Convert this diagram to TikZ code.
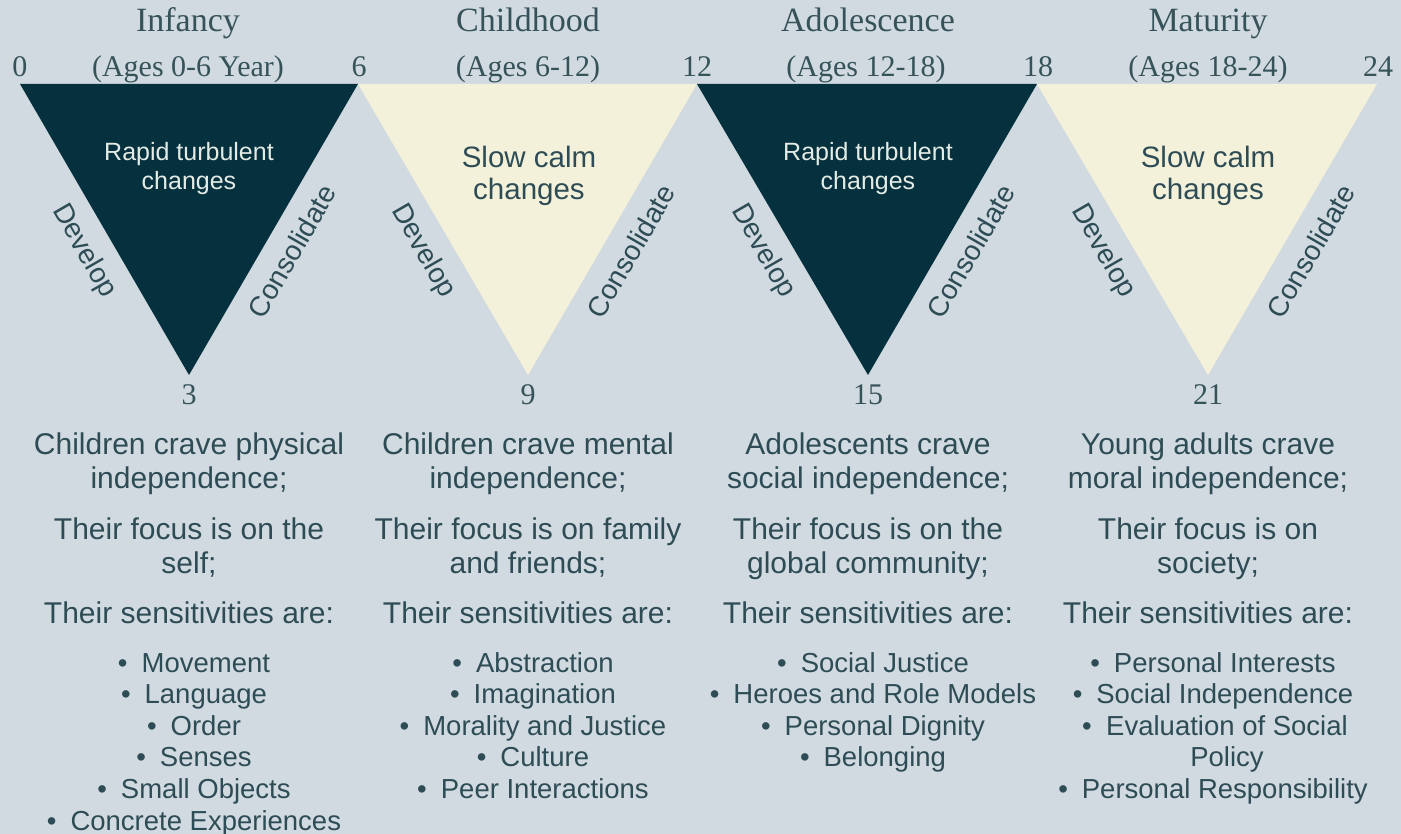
\documentclass[tikz,border=0pt]{standalone}
\usepackage{fontspec}
\setmainfont{Liberation Serif}
\setsansfont{Liberation Sans}
\definecolor{bgc}{HTML}{D1DAE0}
\definecolor{darkc}{HTML}{05313F}
\definecolor{creamc}{HTML}{F4F1DA}
\definecolor{txtc}{HTML}{2E4C55}
\definecolor{headc}{HTML}{36535A}
\definecolor{lightc}{HTML}{E4EBE4}
\begin{document}
\begin{tikzpicture}[x=1pt,y=-1pt,
  hd/.style={font=\fontsize{34}{38}\selectfont, text=headc, inner sep=0pt, anchor=base},
  age/.style={font=\fontsize{30}{34}\selectfont, text=headc, inner sep=0pt, anchor=base},
  body/.style={font=\sffamily\fontsize{30}{34}\selectfont, text=txtc, inner sep=0pt, anchor=base},
  bul/.style={font=\sffamily\fontsize{27.5}{31}\selectfont, text=txtc, inner sep=0pt, anchor=base},
  side/.style={font=\sffamily\fontsize{28}{32}\selectfont, text=txtc, inner sep=0pt},
  rapid/.style={font=\sffamily\fontsize{25}{29}\selectfont, text=lightc, inner sep=0pt, anchor=base},
  slow/.style={font=\sffamily\fontsize{29.5}{32}\selectfont, text=txtc, inner sep=0pt, anchor=base}]
\useasboundingbox (0,0) rectangle (1401,834);
\fill[bgc] (0,0) rectangle (1401,834);

% triangle corners
\coordinate (p0) at (20,84);
\coordinate (p1) at (358,84);
\coordinate (p2) at (697,84);
\coordinate (p3) at (1037,84);
\coordinate (p4) at (1377,84);
\coordinate (v1) at (189,375);
\coordinate (v2) at (528,375);
\coordinate (v3) at (868,375);
\coordinate (v4) at (1208,375);
\fill[darkc] (p0) -- (p1) -- (v1) -- cycle;
\fill[creamc] (p1) -- (p2) -- (v2) -- cycle;
\fill[darkc] (p2) -- (p3) -- (v3) -- cycle;
\fill[creamc] (p3) -- (p4) -- (v4) -- cycle;

% headings
\node[hd] (h1) at (188,32) {Infancy};
\node[hd] (h2) at (528,32) {Childhood};
\node[hd] (h3) at (868,32) {Adolescence};
\node[hd] (h4) at (1208,32) {Maturity};
\node[age] (a1) at (188,77) {(Ages 0-6 Year)};
\node[age] (a2) at (528,77) {(Ages 6-12)};
\node[age] (a3) at (866,77) {(Ages 12-18)};
\node[age] (a4) at (1208,77) {(Ages 18-24)};
\node[age] (n0) at (20,77) {0};
\node[age] (n6) at (359,77) {6};
\node[age] (n12) at (697,77) {12};
\node[age] (n18) at (1038,77) {18};
\node[age] (n24) at (1378,77) {24};
\node[age] (n3) at (189,405) {3};
\node[age] (n9) at (528,405) {9};
\node[age] (n15) at (868,405) {15};
\node[age] (n21) at (1208,405) {21};

% triangle texts
\node[rapid] (r1a) at (189,161) {Rapid turbulent};
\node[rapid] (r1b) at (189,190) {changes};
\node[slow] (s2a) at (529,168) {Slow calm};
\node[slow] (s2b) at (529,200) {changes};
\node[rapid] (r3a) at (868,161) {Rapid turbulent};
\node[rapid] (r3b) at (868,190) {changes};
\node[slow] (s4a) at (1208,168) {Slow calm};
\node[slow] (s4b) at (1208,200) {changes};

% side labels
\foreach \c [count=\i] in {189,528,868,1208}{
  \node[side, rotate=-60] (dev\i) at (\c-105,251) {Develop};
  \node[side, rotate=60] (con\i) at (\c+103,251) {Consolidate};
}

% column 1
\node[body] (c1l1) at (189,454) {Children crave physical};
\node[body] (c1l2) at (189,488) {independence;};
\node[body] (c1l3) at (189,539) {Their focus is on the};
\node[body] (c1l4) at (189,573) {self;};
\node[body] (c1l5) at (189,623) {Their sensitivities are:};
\foreach \t [count=\k] in {Movement,Language,Order,Senses,Small Objects,Concrete Experiences}
  \node[bul] (c1b\k) at (194,{672+31.6*(\k-1)}) {•\hspace{14pt}\t};

% column 2
\node[body] (c2l1) at (528,454) {Children crave mental};
\node[body] (c2l2) at (528,488) {independence;};
\node[body] (c2l3) at (528,539) {Their focus is on family};
\node[body] (c2l4) at (528,573) {and friends;};
\node[body] (c2l5) at (528,623) {Their sensitivities are:};
\foreach \t [count=\k] in {Abstraction,Imagination,Morality and Justice,Culture,Peer Interactions}
  \node[bul] (c2b\k) at (533,{672+31.6*(\k-1)}) {•\hspace{14pt}\t};

% column 3
\node[body] (c3l1) at (868,454) {Adolescents crave};
\node[body] (c3l2) at (868,488) {social independence;};
\node[body] (c3l3) at (868,539) {Their focus is on the};
\node[body] (c3l4) at (868,573) {global community;};
\node[body] (c3l5) at (868,623) {Their sensitivities are:};
\foreach \t [count=\k] in {Social Justice,Heroes and Role Models,Personal Dignity,Belonging}
  \node[bul] (c3b\k) at (873,{672+31.6*(\k-1)}) {•\hspace{14pt}\t};

% column 4
\node[body] (c4l1) at (1208,454) {Young adults crave};
\node[body] (c4l2) at (1208,488) {moral independence;};
\node[body] (c4l3) at (1208,539) {Their focus is on};
\node[body] (c4l4) at (1208,573) {society;};
\node[body] (c4l5) at (1208,623) {Their sensitivities are:};
\node[bul] (c4b1) at (1213,672) {•\hspace{14pt}Personal Interests};
\node[bul] (c4b2) at (1213,703.6) {•\hspace{14pt}Social Independence};
\node[bul] (c4b3) at (1227,735.2) {Evaluation of Social};
\node[bul, anchor=base east] (c4b3d) at ([xshift=-14pt]c4b3.base west) {•};
\node[bul] (c4b3p) at (1227,766.8) {Policy};
\node[bul] (c4b4) at (1213,798.4) {•\hspace{14pt}Personal Responsibility};
\end{tikzpicture}
\end{document}
